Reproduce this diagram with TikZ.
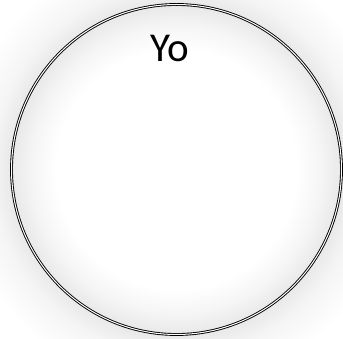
\documentclass[tikz,border=0pt]{standalone}
\usepackage{fontspec}
\setmainfont{Carlito}
\pgfdeclareradialshading{glow}{\pgfpoint{0bp}{0bp}}{%
  color(0bp)=(white);
  color(12bp)=(white);
  color(14.5bp)=(black!4);
  color(16.5bp)=(black!9);
  color(18.5bp)=(black!4);
  color(22bp)=(white);
  color(50bp)=(white)}
\tikzset{
  ringline/.style={draw=black, double=white, line width=0.9pt, double distance=1pt},
  label/.style={font=\fontsize{41}{48}\selectfont, inner sep=0pt, anchor=base}
}
\begin{document}
\begin{tikzpicture}[x=1pt,y=1pt]
\useasboundingbox (0,0) rectangle (343,339);
\fill[white] (0,0) rectangle (343,339);
\begin{scope}
\clip (0,0) rectangle (343,339);
\shade[shading=glow] (176.5,169.5) circle (250);
\end{scope}
\coordinate (c) at (176.5,169.5);
\node[circle, minimum size=330pt, inner sep=0pt, ringline] (ring) at (c) {};
\node[label] (yo) at (170,277) {Yo};
\end{tikzpicture}
\end{document}
